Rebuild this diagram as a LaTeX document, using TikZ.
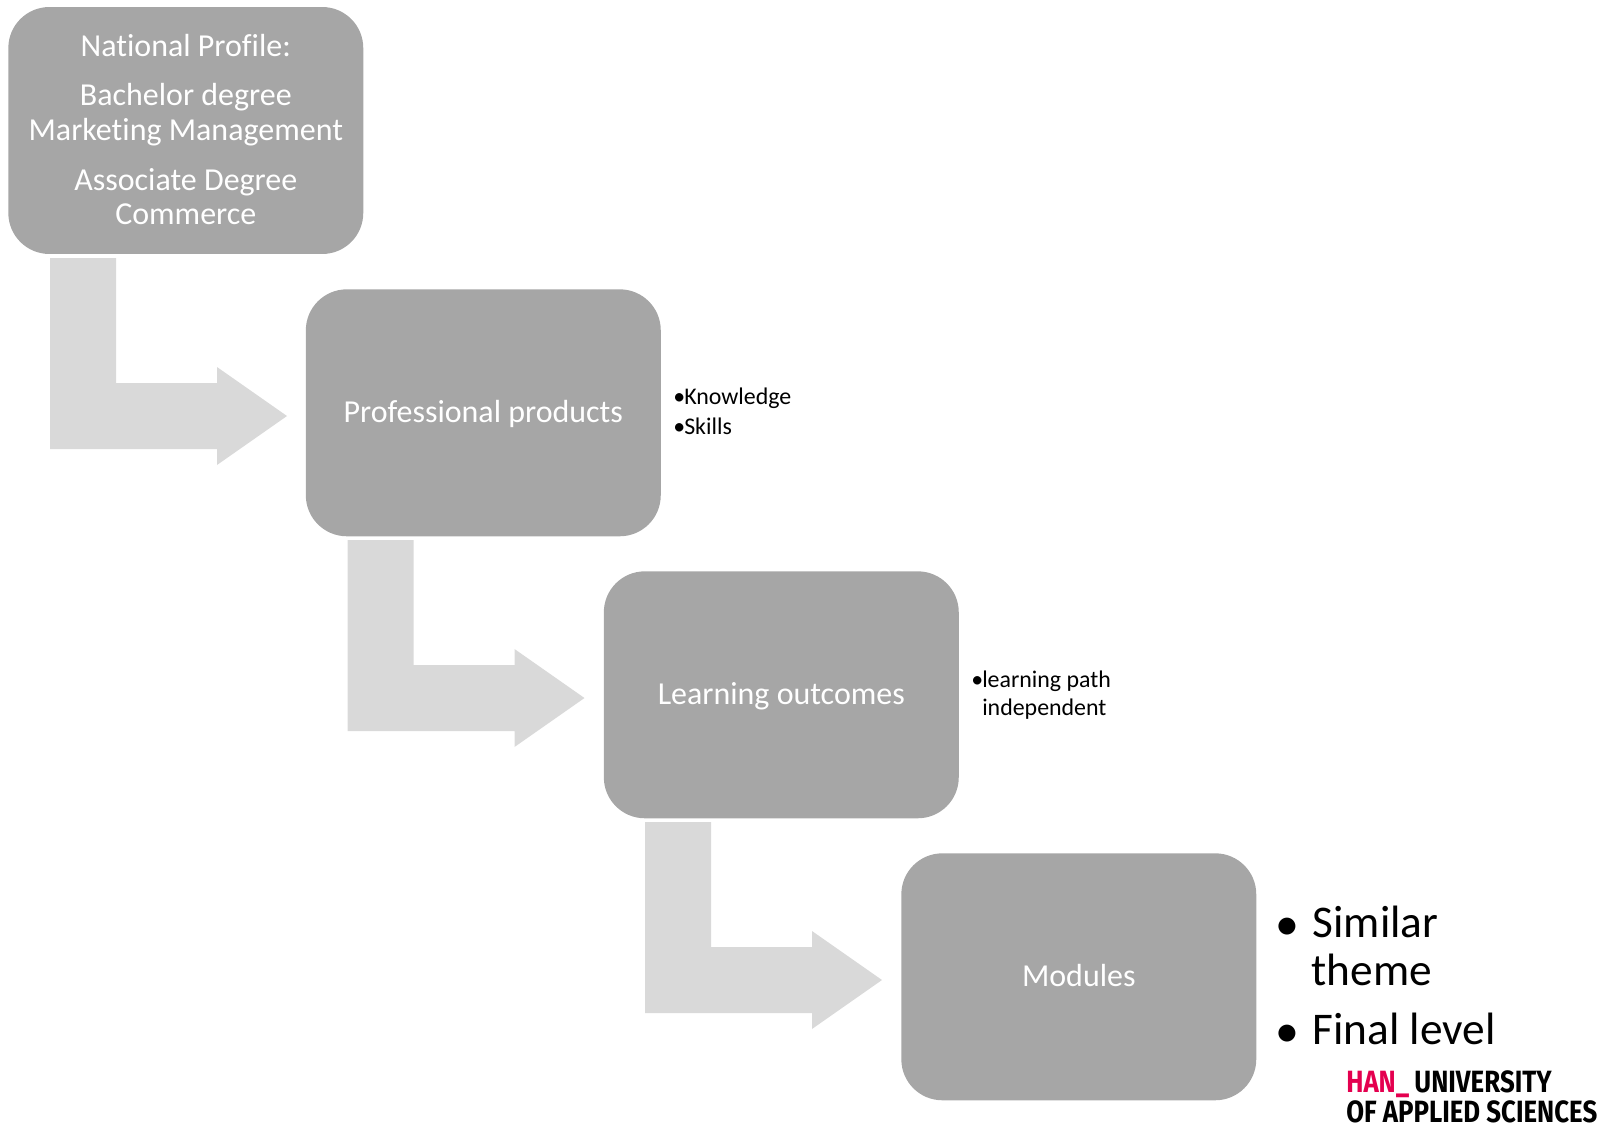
\documentclass[tikz,border=0pt]{standalone}
\usepackage{fontspec}
\setmainfont[Ligatures=NoCommon]{Carlito}
\newfontfamily\logofont{Fira Sans}
\definecolor{boxgray}{HTML}{A6A6A6}
\definecolor{elbowgray}{HTML}{D9D9D9}
\definecolor{hanred}{HTML}{E4004F}
\newcommand{\boxstrut}{\rule[-3.2pt]{0pt}{17.2pt}}
\tikzset{
  stagebox/.style={rounded corners=0.82cm, fill=boxgray, text=white, align=center,
    minimum width=7.1cm, minimum height=4.94cm, inner sep=0pt,
    font=\fontsize{18.2}{19.6}\selectfont},
  elbow/.style={fill=elbowgray},
  smallnote/.style={anchor=base west, inner sep=0pt, align=left, font=\fontsize{13.6}{16}\selectfont},
  bignote/.style={anchor=base west, inner sep=0pt, align=left, font=\fontsize{25.8}{27.5}\selectfont},
  logoline/.style={anchor=base west, inner sep=0pt, xscale=0.84, font=\logofont\bfseries\fontsize{17.5}{20}\selectfont}
}
\begin{document}
\begin{tikzpicture}[x=0.02cm,y=-0.02cm]
  \useasboundingbox (0,0) rectangle (1614,1129);

  \coordinate (elbow1) at (50,258);
  \coordinate (elbow2) at (347.5,540);
  \coordinate (elbow3) at (645,822);

  \fill [elbow] (elbow1) -- ++(66,0) -- ++(0,125) -- ++(101,0) -- ++(0,-16) -- ++(70,49) -- ++(-70,49) -- ++(0,-16) -- ++(-167,0) -- cycle;
  \fill [elbow] (elbow2) -- ++(66,0) -- ++(0,125) -- ++(101,0) -- ++(0,-16) -- ++(70,49) -- ++(-70,49) -- ++(0,-16) -- ++(-167,0) -- cycle;
  \fill [elbow] (elbow3) -- ++(66,0) -- ++(0,125) -- ++(101,0) -- ++(0,-16) -- ++(70,49) -- ++(-70,49) -- ++(0,-16) -- ++(-167,0) -- cycle;

  \node [stagebox] (profile) at (185.8,130.5) {\raisebox{1.8pt}{National Profile:}\\[8.3pt]
    \raisebox{1.8pt}{Bachelor degree}\\\raisebox{1.8pt}{Marketing Management}\\[8.3pt]
    \raisebox{1.2pt}{Associate Degree}\\\raisebox{1.2pt}{Commerce}};
  \node [stagebox] (products) at (483.3,412.8) {\boxstrut Professional products};
  \node [stagebox] (outcomes) at (781.3,694.8) {\boxstrut Learning outcomes};
  \node [stagebox] (modules) at (1078.8,976.8) {\boxstrut Modules};

  \node [smallnote] (knowledge) at (673,404) {\makebox[6.2pt][l]{\textbullet}Knowledge};
  \node [smallnote] (skills) at (673,434) {\makebox[6.2pt][l]{\textbullet}Skills};
  \node [smallnote, anchor=west] (path) at (971,695.5) {\makebox[6.2pt][l]{\textbullet}learning path\\\hspace*{6.2pt}independent};

  \node [bignote, anchor=west] (similar) at (1276,946) {$\bullet$\hspace{8.2pt}Similar\\\hspace*{20pt}theme};
  \node [bignote] (final) at (1276,1044) {$\bullet$\hspace{8.2pt}Final level};

  \node [logoline] (han) at (1346,1092) {\textcolor{hanred}{HAN\_}\hspace{3.5pt}UNIVERSITY};
  \node [logoline] (applied) at (1346,1122) {OF APPLIED SCIENCES};
\end{tikzpicture}
\end{document}
